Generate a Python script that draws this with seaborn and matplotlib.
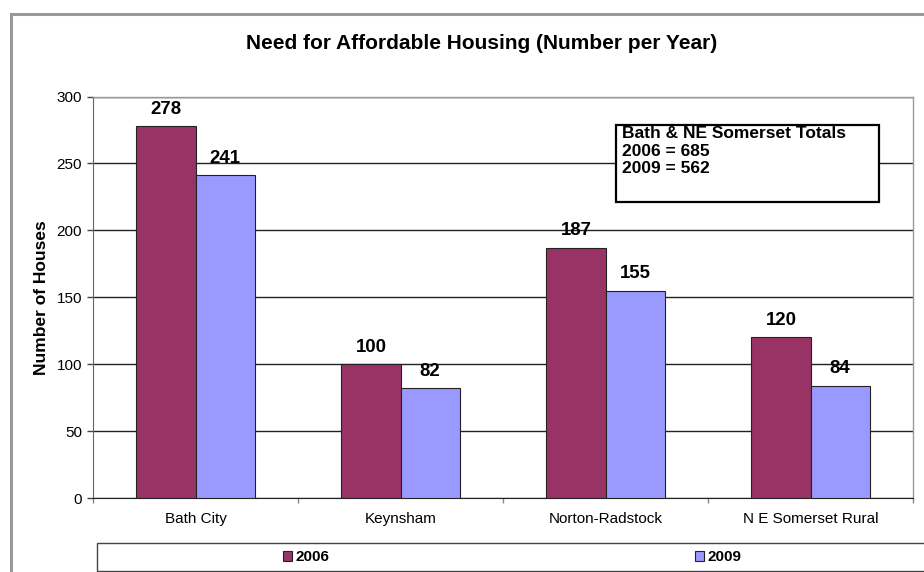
import numpy as np
import pandas as pd
import matplotlib
matplotlib.use("Agg")
import matplotlib.pyplot as plt
from matplotlib.patches import Rectangle
import seaborn as sns

# data
areas = ["Bath City", "Keynsham", "Norton-Radstock", "N E Somerset Rural"]
years = ["2006", "2009"]
need_2006 = [278, 100, 187, 120]
need_2009 = [241, 82, 155, 84]
bar_colors = ["#993366", "#9999FF"]

df = pd.DataFrame({
    "area": areas * 2,
    "year": [years[0]] * len(areas) + [years[1]] * len(areas),
    "houses": need_2006 + need_2009,
})

sns.set_style("white")
plt.rcParams["font.family"] = ["Liberation Sans", "DejaVu Sans"]
plt.rcParams["text.color"] = "black"
plt.rcParams["axes.labelcolor"] = "black"

W, H = 924, 572
fig = plt.figure(figsize=(W / 100, H / 100), dpi=100)

# axes placed in pixel terms of the reference
left, right, top, bottom = 93, 913, 96.5, 498
ax = fig.add_axes([left / W, 1 - bottom / H, (right - left) / W, (bottom - top) / H])

sns.barplot(
    data=df, x="area", y="houses", hue="year", order=areas, hue_order=years,
    palette=bar_colors, saturation=1, width=0.576, edgecolor="#222222",
    linewidth=0.8, ax=ax, zorder=3,
)

ax.set_xlim(-0.5, len(areas) - 0.5)
ax.set_ylim(0, 300)
ax.set_yticks(np.arange(0, 301, 50))
ax.yaxis.grid(True, color="#222222", linewidth=1)
ax.set_axisbelow(True)

for side in ["top", "right"]:
    ax.spines[side].set_visible(True)
    ax.spines[side].set_color("#999999")
    ax.spines[side].set_linewidth(1)
ax.spines["left"].set_color("#666666")
ax.spines["bottom"].set_color("#222222")

ax.tick_params(axis="y", length=4.3, width=1, color="#444444", pad=3.6,
               labelsize=11, labelcolor="black", left=True)
ax.tick_params(axis="x", which="major", length=0, pad=10, labelsize=11,
               labelcolor="black")
ax.set_xticks(np.arange(-0.5, len(areas)), minor=True)
ax.tick_params(axis="x", which="minor", length=3.6, width=1, color="#888888",
               bottom=True)

ax.set_xlabel("")
ax.set_ylabel("Number of Houses", fontsize=12.5, fontweight="bold")
ax.yaxis.set_label_coords(-0.054, 0.5)

# value labels above bars
for cont in ax.containers:
    ax.bar_label(cont, padding=6, fontsize=13.4, fontweight="bold", color="black")

# legend: no frame from matplotlib, box drawn separately
handles, labels = ax.get_legend_handles_labels()
ax.get_legend().remove()
fs_leg = 11
fig.legend(
    handles, labels, ncol=2, frameon=False,
    prop={"weight": "bold", "size": fs_leg},
    loc="center", bbox_to_anchor=(512 / W, 1 - 557 / H),
    handlelength=0.65, handleheight=0.65, handletextpad=0.2,
    columnspacing=23.9, borderpad=0,
)
fig.patches.append(Rectangle((97 / W, 1 - 571 / H), (940 - 97) / W, 28 / H,
                             transform=fig.transFigure, fill=False,
                             edgecolor="#444444", linewidth=1))

# totals box
fig.patches.append(Rectangle((616 / W, 1 - 202 / H), (879 - 616) / W, 77 / H,
                             transform=fig.transFigure, facecolor="white",
                             edgecolor="black", linewidth=1.6, zorder=5))
totals_lines = [
    "Bath & NE Somerset Totals",
    f"{years[0]} = {sum(need_2006)}",
    f"{years[1]} = {sum(need_2009)}",
]
for i, line in enumerate(totals_lines):
    fig.text(622 / W, 1 - (138 + 17.5 * i) / H, line, fontsize=12.5,
             fontweight="bold", va="baseline", ha="left", zorder=6)

# title
fig.text(482 / W, 1 - 49 / H, "Need for Affordable Housing (Number per Year)",
         fontsize=15, fontweight="bold", ha="center", va="baseline")

# outer chart frame (cut off at right and bottom)
fig.patches.append(Rectangle((11 / W, -0.1), 1.2, 1 - 13.5 / H + 0.1,
                             transform=fig.transFigure, fill=False,
                             edgecolor="#999999", linewidth=2.2))

fig.savefig("out.png", dpi=100)
